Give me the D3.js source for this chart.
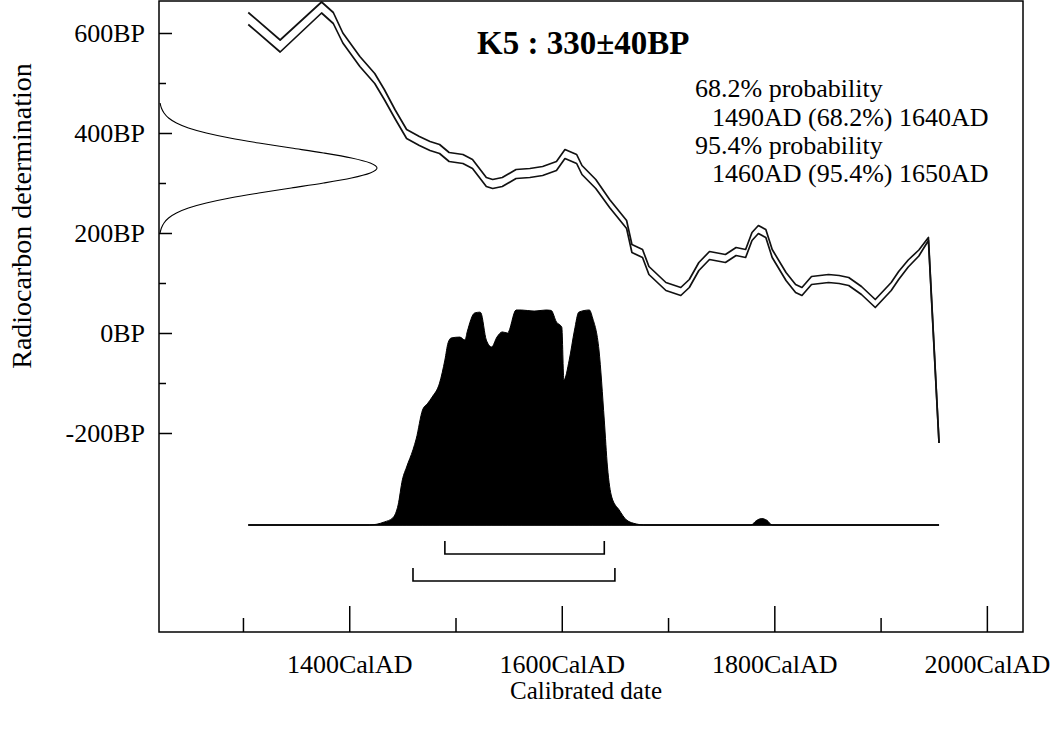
<!DOCTYPE html>
<html>
<head>
<meta charset="utf-8">
<script src="https://cdn.jsdelivr.net/npm/d3@7"></script>
<style>
  html, body { margin: 0; padding: 0; background: #fff; }
  svg { display: block; font-family: "Liberation Serif", "Times New Roman", serif; }
</style>
</head>
<body>
<svg id="chart" width="1053" height="731"></svg>
<script>
// ---- Sample and labels ----
const sampleTitle = "K5 : 330±40BP";
const rangeText = [
  "68.2% probability",
  "1490AD (68.2%) 1640AD",
  "95.4% probability",
  "1460AD (95.4%) 1650AD"
];

// ---- Axis ticks ----
const bpMajor = [600, 400, 200, 0, -200];
const bpMinor = [500, 300, 100, -100];
const yearMajor = [1400, 1600, 1800, 2000];
const yearMinor = [1300, 1500, 1700, 1900];

// ---- Calibration curve (cal AD, mean BP, 1 sigma) ----
const calYear = [1305,1335,1374,1385,1394,1410,1424,1433,1443,1454,1466,1476,1485,1494,1507,1516,1529,1535,1544,1557,1570,1582,1595,1603,1614,1619,1632,1645,1661,1666,1676,1682,1698,1712,1720,1729,1739,1754,1764,1773,1779,1785,1792,1798,1811,1820,1826,1835,1851,1861,1870,1882,1895,1910,1917,1926,1936,1945,1955];
const calBP   = [629,574,651,630,590,543,509,477,438,398,384,374,368,352,348,338,302,298,302,318,320,324,334,358,348,326,298,259,217,169,159,125,93,83,99,133,155,149,163,159,193,207,199,159,113,89,83,105,109,107,103,85,59,93,115,139,160,188,-220];
const calErr  = [12,12,11,11,10,10,10,10,9,9,9,9,9,9,9,9,9,9,9,9,9,9,9,9,9,9,9,8,8,8,8,8,8,8,8,8,8,8,8,8,8,8,8,8,8,8,8,8,8,8,8,8,8,8,8,7,6,3,0];

// ---- Radiocarbon measurement 330±40 BP (relative density) ----
const measBP  = [200,210,220,230,240,250,260,270,280,290,300,310,320,330,340,350,360,370,380,390,400,410,420,430,440,450,460];
const measVal = [0.005,0.011,0.023,0.044,0.080,0.135,0.217,0.325,0.458,0.607,0.755,0.883,0.969,1,0.969,0.883,0.755,0.607,0.458,0.325,0.217,0.135,0.080,0.044,0.023,0.011,0.005];

// ---- Calibrated probability (cal AD, relative) ----
const probYear = [1305,1419,1433,1441,1446,1450,1454,1460,1463,1469,1474,1478,1485,1490,1493,1496,1504,1509,1511,1518,1523,1524,1529,1534,1539,1544,1549,1557,1562,1574,1585,1590,1595,1600,1602,1607,1612,1616,1626,1629,1635,1640,1643,1647,1654,1661,1670,1677,1778,1783,1788,1793,1798,1955];
const probVal  = [0,0,0.014,0.033,0.093,0.21,0.27,0.35,0.40,0.535,0.567,0.595,0.66,0.767,0.847,0.87,0.874,0.86,0.898,0.986,0.99,0.986,0.86,0.828,0.874,0.898,0.893,1.0,1.0,0.995,1.0,0.998,0.944,0.92,0.674,0.767,0.907,0.99,1.0,0.963,0.814,0.488,0.27,0.13,0.07,0.023,0.005,0,0,0.02,0.03,0.022,0,0];

// ---- Highest probability ranges ----
const range68 = [1490, 1640];
const range95 = [1460, 1650];

// ---- Layout ----
const plot = { left: 159, top: 1, right: 1023, bottom: 632 };
const svg = d3.select("#chart");

const x = d3.scaleLinear().domain([1221, 2034]).range([plot.left, plot.right]);
const y = d3.scaleLinear().domain([-598, 664]).range([plot.bottom, plot.top]);
const probY = d3.scaleLinear().domain([0, 1]).range([525, 310]);
const measX = d3.scaleLinear().domain([0, 1]).range([plot.left, 377]);

const cal = calYear.map((d, i) => ({ year: d, bp: calBP[i], err: calErr[i] }));
const prob = probYear.map((d, i) => ({ year: d, p: probVal[i] }));
const meas = measBP.map((d, i) => ({ bp: d, p: measVal[i] }));

// Frame
svg.append("rect")
  .attr("x", plot.left).attr("y", plot.top)
  .attr("width", plot.right - plot.left).attr("height", plot.bottom - plot.top)
  .attr("fill", "none").attr("stroke", "#000").attr("stroke-width", 1.5);

// Axes
function styleAxis(g) {
  g.select(".domain").remove();
  g.attr("font-family", null).attr("font-size", null);
  g.selectAll(".tick line").attr("stroke", "#000").attr("stroke-width", 1.5);
  g.selectAll(".tick text").attr("fill", "#000").style("font-size", "26px");
}

svg.append("g")
  .attr("transform", `translate(${plot.left},0)`)
  .call(d3.axisLeft(y).tickValues(bpMajor).tickSize(-13).tickPadding(14).tickFormat(d => d + "BP"))
  .call(styleAxis);
svg.append("g")
  .attr("transform", `translate(${plot.left},0)`)
  .call(d3.axisLeft(y).tickValues(bpMinor).tickSize(-7).tickFormat(""))
  .call(styleAxis);

svg.append("g")
  .attr("transform", `translate(0,${plot.bottom})`)
  .call(d3.axisBottom(x).tickValues(yearMajor).tickSize(-26).tickPadding(23).tickFormat(d => d + "CalAD"))
  .call(styleAxis);
svg.append("g")
  .attr("transform", `translate(0,${plot.bottom})`)
  .call(d3.axisBottom(x).tickValues(yearMinor).tickSize(-14).tickFormat(""))
  .call(styleAxis);

// Axis titles
svg.append("text")
  .attr("transform", "translate(31,216) rotate(-90)")
  .attr("text-anchor", "middle")
  .style("font-size", "28px")
  .text("Radiocarbon determination");
svg.append("text")
  .attr("x", 586).attr("y", 699)
  .attr("text-anchor", "middle")
  .style("font-size", "25px")
  .text("Calibrated date");

// Measured radiocarbon age distribution along the BP axis
svg.append("path")
  .datum(meas)
  .attr("fill", "none").attr("stroke", "#000").attr("stroke-width", 1.1)
  .attr("d", d3.line().curve(d3.curveMonotoneY).x(d => measX(d.p)).y(d => y(d.bp)));

// Calibration curve: mean ± 1 sigma
const upper = d3.line().x(d => x(d.year)).y(d => y(d.bp + d.err));
const lower = d3.line().x(d => x(d.year)).y(d => y(d.bp - d.err));
svg.append("path").datum(cal).attr("fill", "none").attr("stroke", "#111")
  .attr("stroke-width", 1.7).attr("stroke-linejoin", "round").attr("d", upper);
svg.append("path").datum(cal).attr("fill", "none").attr("stroke", "#111")
  .attr("stroke-width", 1.7).attr("stroke-linejoin", "round").attr("d", lower);

// Calibrated date distribution
svg.append("path")
  .datum(prob)
  .attr("fill", "#000").attr("stroke", "#000").attr("stroke-width", 1)
  .attr("d", d3.area().curve(d3.curveMonotoneX)
    .x(d => x(d.year)).y0(probY(0)).y1(d => probY(d.p)));
svg.append("line")
  .attr("x1", x(probYear[0])).attr("x2", x(probYear[probYear.length - 1]))
  .attr("y1", probY(0)).attr("y2", probY(0))
  .attr("stroke", "#000").attr("stroke-width", 1.6);

// Range brackets
function bracket(r, yb) {
  const h = 13;
  svg.append("path")
    .attr("fill", "none").attr("stroke", "#000").attr("stroke-width", 1.6)
    .attr("d", `M${x(r[0])},${yb - h}L${x(r[0])},${yb}L${x(r[1])},${yb}L${x(r[1])},${yb - h}`);
}
bracket(range68, 554);
bracket(range95, 581);

// Title and range summary
svg.append("text")
  .attr("x", 477).attr("y", 54)
  .style("font-size", "33px").style("font-weight", "bold")
  .text(sampleTitle);

const textPos = [[695, 97], [712, 126], [695, 154], [712, 182]];
rangeText.forEach((t, i) => {
  svg.append("text")
    .attr("x", textPos[i][0]).attr("y", textPos[i][1])
    .style("font-size", "26px")
    .text(t);
});
</script>
</body>
</html>
